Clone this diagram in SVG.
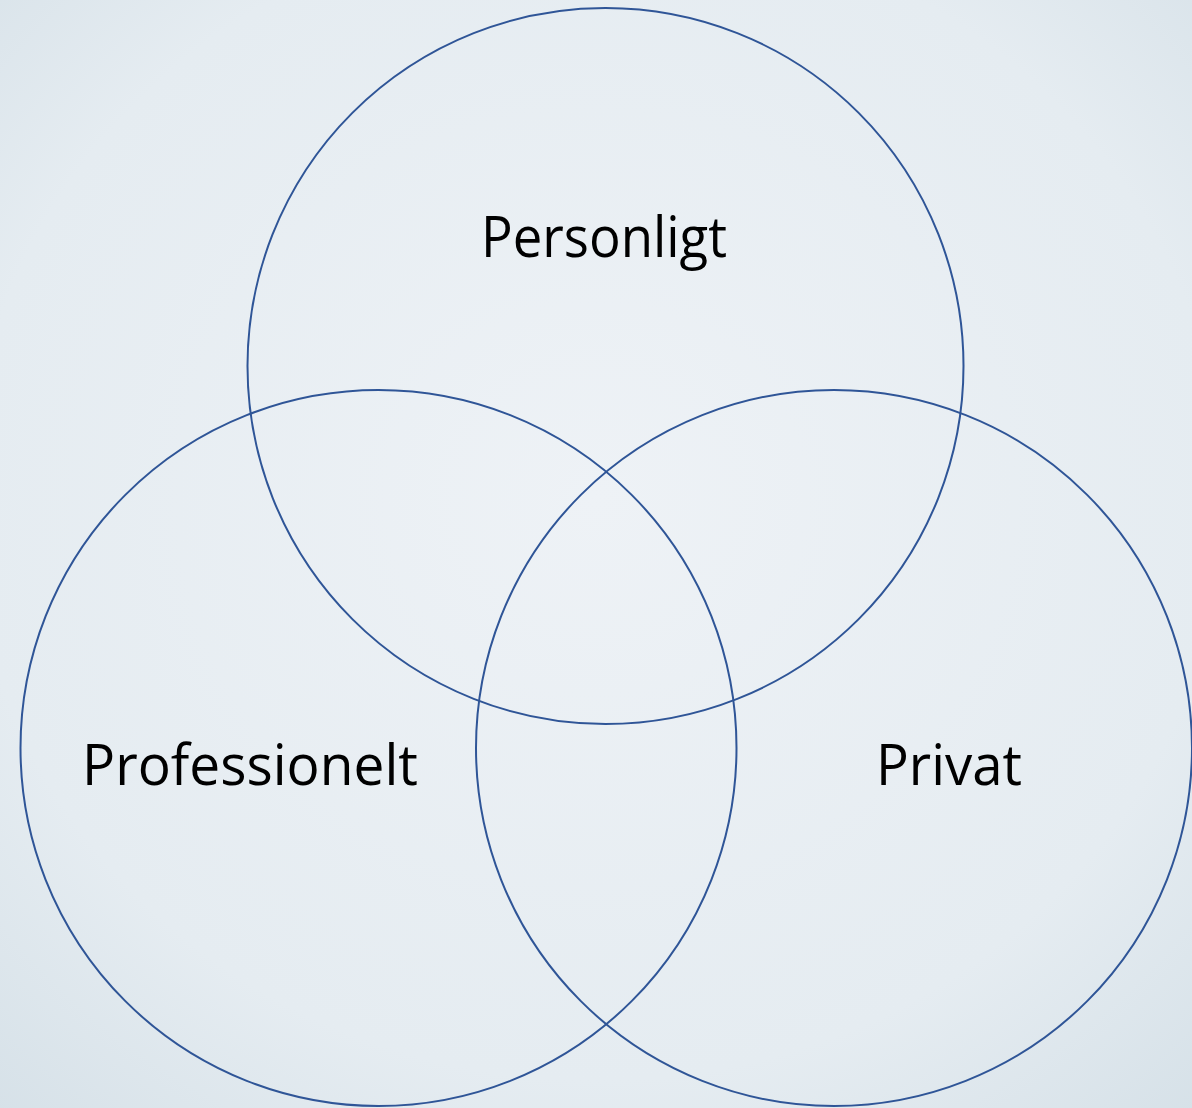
<svg xmlns="http://www.w3.org/2000/svg" width="1192" height="1108" viewBox="0 0 1192 1108">
  <defs>
    <radialGradient id="bg" cx="0.5" cy="0.45" r="0.75">
      <stop offset="0" stop-color="#eef2f6"/>
      <stop offset="0.7" stop-color="#e5ecf1"/>
      <stop offset="1" stop-color="#d6e1e8"/>
    </radialGradient>
  </defs>
  <style>
    .ring { fill: none; stroke: #2f5597; stroke-width: 2; }
    .label { font-family: "Open Sans", "Liberation Sans", sans-serif; font-size: 56px; fill: #000; }
  </style>
  <rect x="0" y="0" width="1192" height="1108" fill="url(#bg)"/>
  <g id="connectors"></g>
  <g id="personligt">
    <circle class="ring" cx="605.5" cy="366" r="358"/>
    <text class="label" x="481" y="257" textLength="246" lengthAdjust="spacingAndGlyphs">Personligt</text>
  </g>
  <g id="professionelt">
    <circle class="ring" cx="378.5" cy="748" r="358"/>
    <text class="label" x="82" y="785" textLength="336" lengthAdjust="spacingAndGlyphs">Professionelt</text>
  </g>
  <g id="privat">
    <circle class="ring" cx="834" cy="748" r="358"/>
    <text class="label" x="876" y="785" textLength="146" lengthAdjust="spacingAndGlyphs">Privat</text>
  </g>
</svg>
